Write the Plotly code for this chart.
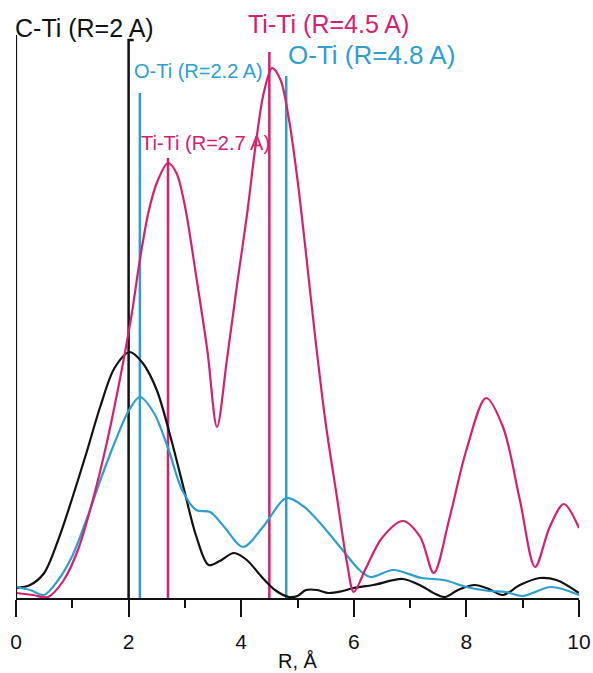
import plotly.graph_objects as go

# ---- data ----
R_black = [0, 0.25, 0.5, 0.75, 1.0, 1.25, 1.5, 1.75, 2.02, 2.25, 2.5, 2.75, 3.0, 3.2, 3.42, 3.62, 3.87,
           4.1, 4.35, 4.6, 4.85, 5.0, 5.15, 5.35, 5.55, 5.8, 6.0, 6.35, 6.87, 7.2, 7.45, 7.62, 7.85,
           8.15, 8.4, 8.65, 8.95, 9.3, 9.6, 10]
I_black = [0.10, 0.13, 0.25, 0.58, 1.00, 1.45, 1.92, 2.30, 2.46, 2.35, 2.08, 1.60, 1.05, 0.62, 0.33, 0.37, 0.45,
           0.38, 0.22, 0.08, 0.01, 0.02, 0.08, 0.08, 0.05, 0.07, 0.10, 0.13, 0.19, 0.12, 0.04, 0.01, 0.08,
           0.13, 0.09, 0.03, 0.13, 0.20, 0.18, 0.05]

R_cyan = [0, 0.25, 0.5, 0.75, 1.0, 1.25, 1.5, 1.75, 2.0, 2.2, 2.45, 2.7, 2.95, 3.2, 3.45, 3.7, 4.03, 4.4,
          4.8, 5.1, 5.4, 5.8, 6.1, 6.3, 6.7, 7.2, 7.6, 8.0, 8.4, 8.7, 9.0, 9.5, 10]
I_cyan = [0.11, 0.08, 0.03, 0.18, 0.42, 0.78, 1.18, 1.55, 1.87, 2.01, 1.85, 1.50, 1.08, 0.88, 0.86, 0.71, 0.51, 0.72,
          1.00, 0.92, 0.75, 0.48, 0.28, 0.21, 0.28, 0.20, 0.18, 0.11, 0.07, 0.06, 0.02, 0.11, 0.03]

R_pink = [0, 0.3, 0.57, 0.85, 1.1, 1.35, 1.6, 1.85, 2.05, 2.2, 2.35, 2.5, 2.7, 2.85, 3.0, 3.2, 3.4,
          3.57, 3.75, 3.93, 4.1, 4.25, 4.4, 4.55, 4.7, 4.85, 5.0, 5.15, 5.3, 5.5, 5.7, 5.88,
          6.0, 6.2, 6.5, 6.87, 7.18, 7.42, 7.7, 8.0, 8.35, 8.65, 8.95, 9.22, 9.48, 9.73, 10]
I_pink = [0.05, 0.03, 0.01, 0.18, 0.48, 0.95, 1.52, 2.20, 2.82, 3.38, 3.85, 4.15, 4.35, 4.25, 3.92, 3.22, 2.47,
          1.71, 2.40, 3.15, 3.82, 4.50, 5.05, 5.30, 5.18, 4.78, 4.18, 3.45, 2.68, 1.75, 1.01, 0.35,
          0.06, 0.28, 0.60, 0.77, 0.61, 0.25, 0.80, 1.48, 2.00, 1.71, 0.98, 0.31, 0.71, 0.94, 0.70]

marker_labels = ["C-Ti (R=2 A)", "O-Ti (R=2.2 A)", "Ti-Ti (R=2.7 A)", "Ti-Ti (R=4.5 A)", "O-Ti (R=4.8 A)"]
marker_R = [2.0, 2.2, 2.7, 4.5, 4.8]
marker_top = [5.58, 5.05, 4.40, 5.46, 5.22]

x_ticks = [0, 2, 4, 6, 8, 10]

# ---- styles ----
BLACK = "#111111"
PINK = "#D6206E"
CYAN = "#2C9FCF"
marker_colors = [BLACK, CYAN, PINK, PINK, CYAN]
FONT = "Liberation Sans, Arial, sans-serif"

fig = go.Figure()

# vertical marker lines
for i, (r, top, col) in enumerate(zip(marker_R, marker_top, marker_colors)):
    if i == 0:
        xs, ys = [r + 0.09, r, r], [top, top, 0]
    else:
        xs, ys = [r, r], [top, 0]
    fig.add_trace(go.Scatter(x=xs, y=ys, mode="lines", line=dict(color=col, width=2.5),
                             hoverinfo="skip", showlegend=False))

# curves
for xs, ys, col in [(R_black, I_black, BLACK), (R_cyan, I_cyan, CYAN), (R_pink, I_pink, PINK)]:
    fig.add_trace(go.Scatter(x=xs, y=ys, mode="lines",
                             line=dict(color=col, width=2.2, shape="spline", smoothing=0.9),
                             showlegend=False))

# left frame line
fig.add_shape(type="line", xref="x", yref="y", x0=0, x1=0, y0=0, y1=5.63,
              line=dict(color=BLACK, width=2.2))

# labels: (x, y, font size, xshift)
label_pos = [(0, 5.70, 25, -3), (2.06, 5.27, 20, 0), (2.18, 4.55, 20, 0), (4.08, 5.74, 25, 0), (4.79, 5.43, 26, 0)]
for text, col, (lx, ly, fs, xsh) in zip(marker_labels, marker_colors, label_pos):
    fig.add_annotation(x=lx, y=ly, xref="x", yref="y", text=text, showarrow=False,
                       xanchor="left", yanchor="middle", xshift=xsh,
                       font=dict(family=FONT, size=fs, color=col))

fig.update_layout(
    width=593, height=673,
    margin=dict(l=16, r=14, t=0, b=75),
    paper_bgcolor="white", plot_bgcolor="white",
    font=dict(family=FONT, color=BLACK),
    xaxis=dict(range=[0, 10], tickvals=x_ticks, showgrid=False, zeroline=False,
               showline=True, linecolor=BLACK, linewidth=2.2,
               ticks="outside", ticklen=17, tickwidth=2, tickcolor=BLACK,
               ticklabelstandoff=7,
               minor=dict(dtick=1, ticks="outside", ticklen=8, tickwidth=2, tickcolor=BLACK, showgrid=False),
               tickfont=dict(size=21, color=BLACK),
               title=dict(text="R, Å", font=dict(size=20, color=BLACK), standoff=2)),
    yaxis=dict(range=[0, 5.98], visible=False),
)

fig.write_html("out.html")
